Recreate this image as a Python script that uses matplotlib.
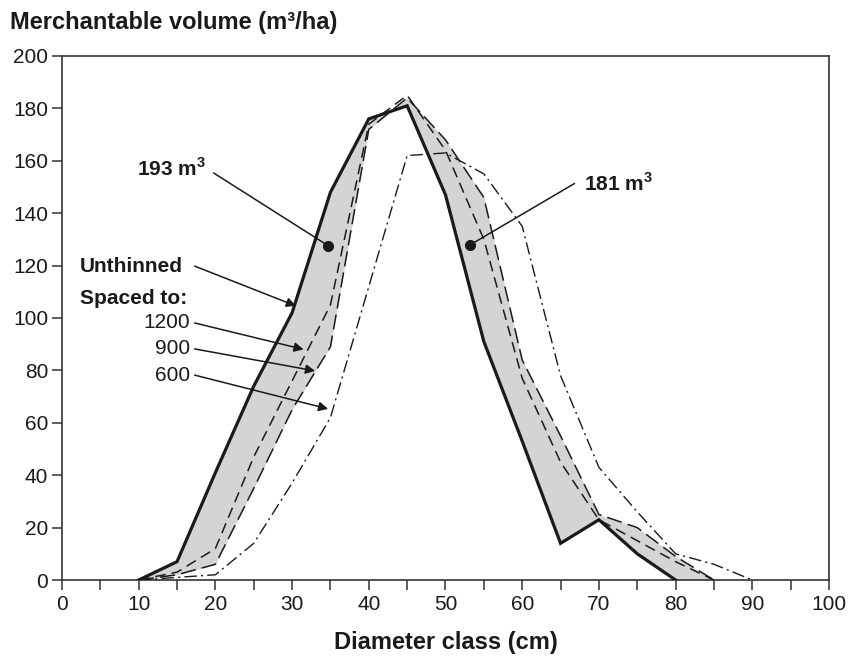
import matplotlib
matplotlib.use("Agg")
import matplotlib.pyplot as plt
import numpy as np

plt.rcParams['font.family'] = ['Liberation Sans', 'DejaVu Sans']
plt.rcParams['mathtext.fontset'] = 'custom'
plt.rcParams['mathtext.rm'] = 'Liberation Sans'
plt.rcParams['mathtext.bf'] = 'Liberation Sans:bold'

# Data (diameter class in cm, volume m3/ha)
x_unthinned = [10, 15, 20, 25, 30, 35, 40, 45, 50, 55, 60, 65, 70, 75, 80]
y_unthinned = [0, 7, 41, 74, 102, 148, 176, 181, 147, 91, 53, 14, 23, 10, 0]

x_1200 = [10, 15, 20, 25, 30, 35, 40, 45, 50, 55, 60, 65, 70, 75, 80, 85]
y_1200 = [0, 3, 12, 47, 76, 105, 174, 185, 164, 130, 77, 45, 23, 15, 7, 0]

x_900 = [10, 15, 20, 25, 30, 35, 40, 45, 50, 55, 60, 65, 70, 75, 80, 85]
y_900 = [0, 2, 6, 35, 65, 89, 172, 184, 168, 146, 84, 55, 25, 20, 9, 0]

x_600 = [10, 15, 20, 25, 30, 35, 40, 45, 50, 55, 60, 65, 70, 75, 80, 85, 90]
y_600 = [0, 1, 2, 14, 37, 62, 112, 162, 163, 155, 135, 78, 43, 26, 10, 6, 0]

x_ticks = list(range(0, 101, 10))
x_minor = list(range(0, 101, 5))
y_ticks = list(range(0, 201, 20))

fig = plt.figure(figsize=(8.48, 6.58), dpi=100)
ax = fig.add_axes([62/848, 1-580/658, (829-62)/848, (580-56)/658])

# shaded area between unthinned and 900 spacing
xs = np.arange(10, 85.01, 0.25)
yu = np.interp(xs, x_unthinned, y_unthinned, right=0)
y9 = np.interp(xs, x_900, y_900)
ax.fill_between(xs, yu, y9, color='#d4d4d6', lw=0, zorder=1)

ax.plot(x_unthinned, y_unthinned, color='#1a1a1a', lw=2.3, zorder=4, solid_joinstyle='miter')
ax.plot(x_1200, y_1200, color='#1a1a1a', lw=1.1, dashes=(7, 4), zorder=3)
ax.plot(x_900, y_900, color='#1a1a1a', lw=1.1, dashes=(10, 4), zorder=3)
ax.plot(x_600, y_600, color='#1a1a1a', lw=1.0, dashes=(9, 3, 1.5, 3), zorder=3)

ax.set_xlim(0, 100)
ax.set_ylim(0, 200)
ax.set_xticks(x_ticks)
ax.set_xticks(x_minor, minor=True)
ax.set_yticks(y_ticks)
ax.tick_params(axis='both', which='both', direction='out', length=7, width=1.1,
               color='#333333', labelsize=15, labelcolor='#1a1a1a')
ax.tick_params(axis='x', pad=4)
ax.tick_params(axis='y', pad=3)
for s in ax.spines.values():
    s.set_color('#333333')
    s.set_linewidth(1.2)

# labels
fig.text(10/848, 1-22/658, 'Merchantable volume (m³/ha)', fontsize=17,
         fontweight='bold', ha='left', va='center', color='#1a1a1a')
fig.text(446/848, 1-643/658, 'Diameter class (cm)', fontsize=17,
         fontweight='bold', ha='center', va='center', color='#1a1a1a')

# volume annotations
ax.text(9.8, 157, r'193 m$^{\mathbf{3}}$', fontsize=15, fontweight='bold',
        ha='left', va='center', color='#1a1a1a')
ax.plot([19.8, 34.7], [155.3, 127.6], color='#1a1a1a', lw=1.1, zorder=5)
ax.plot([34.7], [127.6], 'o', color='#1a1a1a', ms=7, zorder=6)

ax.text(68.0, 151.5, r'181 m$^{\mathbf{3}}$', fontsize=15, fontweight='bold',
        ha='left', va='center', color='#1a1a1a')
ax.plot([66.8, 53.2], [151.3, 127.9], color='#1a1a1a', lw=1.1, zorder=5)
ax.plot([53.2], [127.9], 'o', color='#1a1a1a', ms=7, zorder=6)

# series labels with arrows
ax.text(2.35, 119.8, 'Unthinned', fontsize=15, fontweight='bold',
        ha='left', va='center', color='#1a1a1a')
ax.text(2.35, 107.6, 'Spaced to:', fontsize=15, fontweight='bold',
        ha='left', va='center', color='#1a1a1a')
labels = ['1200', '900', '600']
label_y = [98.1, 88.2, 78.2]
tips = [(31.5, 88.0), (33.0, 79.8), (34.7, 65.3)]
for lab, ly, tip in zip(labels, label_y, tips):
    ax.text(16.7, ly, lab, fontsize=15, ha='right', va='center', color='#1a1a1a')
    ax.annotate('', xy=tip, xytext=(17.3, ly),
                arrowprops=dict(arrowstyle='-|>', color='#1a1a1a', lw=1.1,
                                mutation_scale=14, shrinkA=0, shrinkB=0), zorder=6)
ax.annotate('', xy=(30.5, 104.6), xytext=(17.3, 119.8),
            arrowprops=dict(arrowstyle='-|>', color='#1a1a1a', lw=1.1,
                            mutation_scale=14, shrinkA=0, shrinkB=0), zorder=6)

fig.savefig('out.png', dpi=100)
